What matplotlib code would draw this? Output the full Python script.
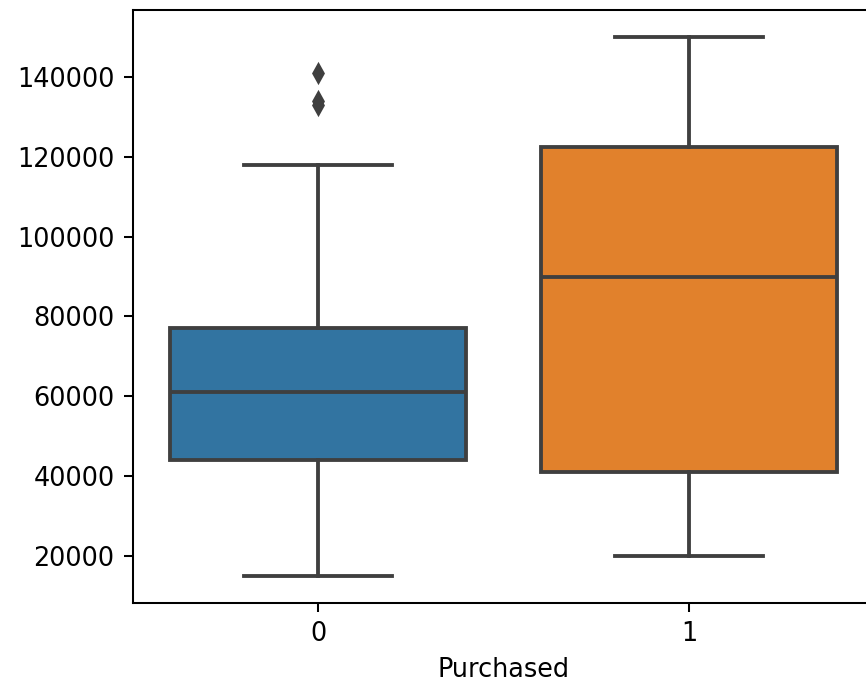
import matplotlib
matplotlib.use("Agg")
import matplotlib.pyplot as plt
from matplotlib.patches import Patch

categories = ["0", "1"]
whislo = [15000, 20000]
q1 = [44000, 41000]
med = [61000, 90000]
q3 = [77000, 122500]
whishi = [118000, 150000]
fliers = [[141000, 134000, 133000], []]
colors = ["#3274a1", "#e1812c"]
line_gray = "#3f3f3f"

DPI = 184
fig = plt.figure(figsize=(866 / DPI, 685 / DPI), dpi=DPI)
ax = fig.add_axes([132.5 / 866, 82 / 685, 742 / 866, 593 / 685])

stats = []
for i, c in enumerate(categories):
    stats.append(dict(label=c, whislo=whislo[i], q1=q1[i], med=med[i],
                      q3=q3[i], whishi=whishi[i], fliers=fliers[i]))

bp = ax.bxp(stats, positions=range(len(categories)), widths=0.8,
            patch_artist=True, showfliers=True,
            boxprops=dict(linewidth=1.5, edgecolor=line_gray),
            medianprops=dict(color=line_gray, linewidth=1.5),
            whiskerprops=dict(color=line_gray, linewidth=1.5),
            capprops=dict(color=line_gray, linewidth=1.5),
            flierprops=dict(marker="d", markerfacecolor=line_gray,
                            markeredgecolor=line_gray, markersize=5,
                            linestyle="none"))
for patch, col in zip(bp["boxes"], colors):
    patch.set_facecolor(col)

ax.set_xlim(-0.5, 1.5)
ax.set_ylim(8250, 156750)
ax.set_xticks(range(len(categories)))
ax.set_xticklabels(categories)
ax.set_xlabel("Purchased")

fig.savefig("out.png", dpi=DPI)
